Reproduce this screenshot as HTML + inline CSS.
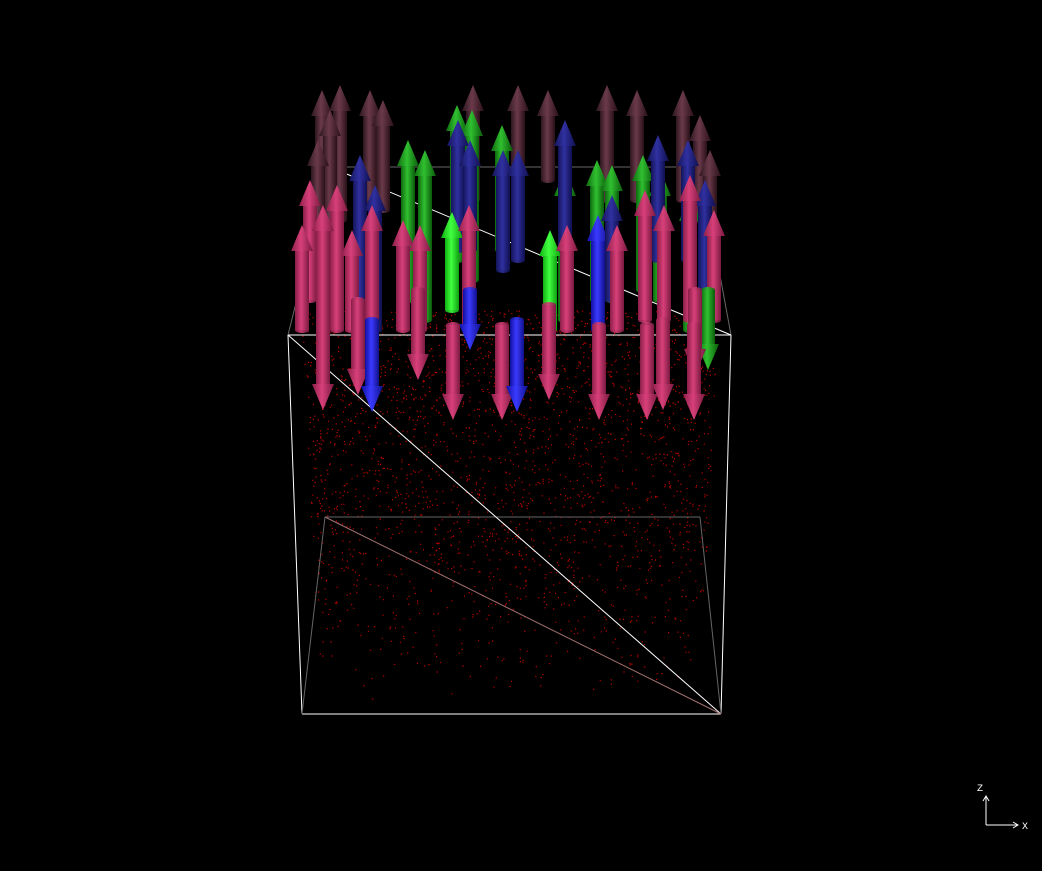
<!DOCTYPE html>
<html><head><meta charset="utf-8"><style>
html,body{margin:0;padding:0;background:#000;}
svg{display:block;}
</style></head><body>
<svg id="scene" width="1042" height="871" viewBox="0 0 1042 871" xmlns="http://www.w3.org/2000/svg">
<defs>
<linearGradient id="g-pink" x1="0" x2="1"><stop offset="0" stop-color="#8a1e48"/><stop offset="0.45" stop-color="#d8407a"/><stop offset="1" stop-color="#7a1a40"/></linearGradient>
<linearGradient id="g-maroon" x1="0" x2="1"><stop offset="0" stop-color="#2e1620"/><stop offset="0.45" stop-color="#6a3a4a"/><stop offset="1" stop-color="#2a1018"/></linearGradient>
<linearGradient id="g-blue" x1="0" x2="1"><stop offset="0" stop-color="#1010a0"/><stop offset="0.45" stop-color="#3a3aff"/><stop offset="1" stop-color="#10108a"/></linearGradient>
<linearGradient id="g-dblue" x1="0" x2="1"><stop offset="0" stop-color="#14145a"/><stop offset="0.45" stop-color="#3030a0"/><stop offset="1" stop-color="#101050"/></linearGradient>
<linearGradient id="g-green" x1="0" x2="1"><stop offset="0" stop-color="#0e6a0e"/><stop offset="0.45" stop-color="#30c030"/><stop offset="1" stop-color="#0a5a0a"/></linearGradient>
<linearGradient id="g-lime" x1="0" x2="1"><stop offset="0" stop-color="#10b010"/><stop offset="0.45" stop-color="#40ff40"/><stop offset="1" stop-color="#10a010"/></linearGradient>
</defs>
<g id="dots"></g>
<g id="box" stroke="#fff" fill="none" stroke-width="1"></g>
<g id="arrows"></g>
<g stroke="#fff" stroke-width="1" fill="none">
<line x1="986" y1="825" x2="1018" y2="825"/><polyline points="1013,822 1018,825 1013,828"/>
<line x1="986" y1="825" x2="986" y2="796"/><polyline points="983,801 986,796 989,801"/>
<text x="1022" y="829" fill="#fff" stroke="none" font-family="Liberation Mono, monospace" font-size="10">X</text>
<text x="977" y="791" fill="#fff" stroke="none" font-family="Liberation Mono, monospace" font-size="10">Z</text>
</g>
</svg>
<script>
// arrow data: x, tail y, head-tip y, colour key (listed back to front)
const arrowX =   [322,340,370,383,473,518,548,607,637,683,700,330,318,710, 408,425,457,472,502,565,597,612,643,660,690, 360,375,458,470,503,518,565,598,612,658,688,705, 452,550, 310,337,302,323,352,372,403,420,469,567,617,645,664,690,714, 708,470,695,418,358,549,323,372,453,502,517,599,647,663,694];
const arrowTail= [230,220,200,210,200,200,180,200,200,200,220,240,250,260, 300,320,260,280,250,320,300,300,290,300,330, 320,330,250,250,270,260,250,330,300,260,260,320, 310,330, 300,330,330,330,330,330,330,330,330,330,330,320,320,320,320, 290,290,290,290,300,305,320,320,325,325,320,325,325,320,325];
const arrowTip = [ 90, 85, 90,100, 85, 85, 90, 85, 90, 90,115,110,140,150, 140,150,105,110,125,170,160,165,155,170,195, 155,185,120,140,150,150,120,215,195,135,140,180, 212,230, 180,185,225,205,230,205,220,225,205,225,225,190,205,175,210, 370,350,375,380,395,400,410,412,420,420,412,420,420,410,420];
const arrowColor=['m','m','m','m','m','m','m','m','m','m','m','m','m','m', 'g','g','g','g','g','g','g','g','g','g','g', 'db','db','db','db','db','db','db','b','db','db','db','db', 'l','l', 'p','p','p','p','p','p','p','p','p','p','p','p','p','p','p', 'g','b','p','p','p','p','p','b','p','p','b','p','p','p','p'];
const grads={m:'url(#g-maroon)',g:'url(#g-green)',b:'url(#g-blue)',db:'url(#g-dblue)',l:'url(#g-lime)',p:'url(#g-pink)'};
const NS='http://www.w3.org/2000/svg';
const ag=document.getElementById('arrows');
for(let i=0;i<arrowX.length;i++){
  const x=arrowX[i], t=arrowTail[i], h=arrowTip[i];
  const dir = h<t ? -1 : 1;
  const headLen=26, sw=7, hw=11;
  const neck=h-dir*headLen;
  const g=document.createElementNS(NS,'g');
  
  
  const shaft=document.createElementNS(NS,'rect');
  
  
  shaft.setAttribute('x',x-sw);shaft.setAttribute('width',2*sw);
  shaft.setAttribute('y',Math.min(t,neck));shaft.setAttribute('height',Math.abs(neck-t));
  shaft.setAttribute('fill',grads[arrowColor[i]]);
  g.appendChild(shaft);
  const cap=document.createElementNS(NS,'ellipse');
  
  
  cap.setAttribute('cx',x);cap.setAttribute('cy',t);cap.setAttribute('rx',sw);cap.setAttribute('ry',3);
  cap.setAttribute('fill',grads[arrowColor[i]]);cap.setAttribute('opacity','0.9');
  g.appendChild(cap);
  const head=document.createElementNS(NS,'polygon');
  
  
  head.setAttribute('points',`${x-hw},${neck} ${x+hw},${neck} ${x},${h}`);
  head.setAttribute('fill',grads[arrowColor[i]]);
  g.appendChild(head);
  ag.appendChild(g);
}
// bounding box edges
const boxLines=[[288,335,731,335],[302,714,721,714],[288,335,302,714],[731,335,721,714],
 [325,517,700,517],[330,167,700,167],[288,335,330,167],[731,335,700,167],[325,517,302,714],[700,517,721,714],
 [288,335,721,714],[330,167,731,335]];
const bg=document.getElementById('box');
boxLines.forEach((l,k)=>{
  const e=document.createElementNS(NS,'line');
  
  
  e.setAttribute('x1',l[0]);e.setAttribute('y1',l[1]);e.setAttribute('x2',l[2]);e.setAttribute('y2',l[3]);
  if(k>=4&&k<10){e.setAttribute('stroke','#666');}
  bg.appendChild(e);
});
const dl=document.createElementNS(NS,'line');


dl.setAttribute('x1',325);dl.setAttribute('y1',517);dl.setAttribute('x2',721);dl.setAttribute('y2',714);dl.setAttribute('stroke','#a07070');
bg.appendChild(dl);
// particle texture (deterministic)
const dg=document.getElementById('dots');
let s=12345;function rnd(){s=(s*1103515245+12345)%2147483648;return s/2147483648;}
let path='';
for(let i=0;i<2600;i++){
  const v=rnd(), u=rnd();
  const y=310+v*390*Math.sqrt(rnd()*0.6+0.4)*(0.6+0.4*v);
  const fy=(y-300)/400;
  const x=300+fy*20+u*(420-fy*40);
  path+=`M${x.toFixed(1)} ${y.toFixed(1)}h1.2v1.2h-1.2z`;
}
const dp=document.createElementNS(NS,'path');


dp.setAttribute('d',path);dp.setAttribute('fill','#c00000');
dg.appendChild(dp);
</script>
</body></html>
